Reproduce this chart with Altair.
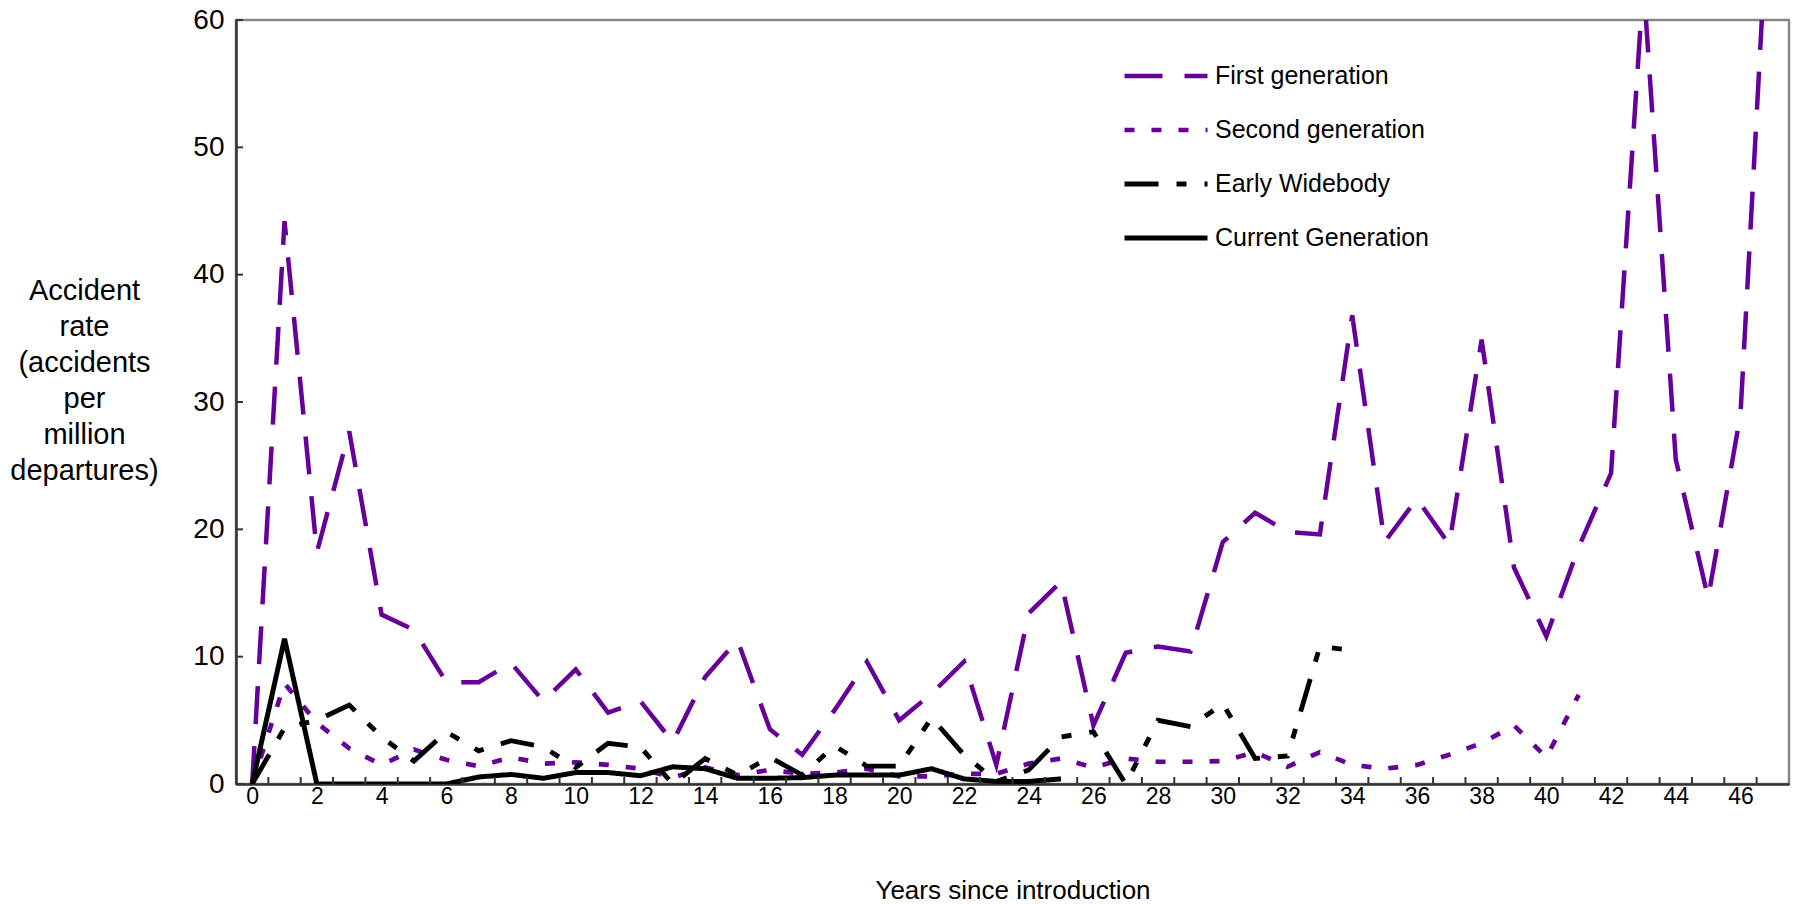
import altair as alt
import pandas as pd

# ---- data ----
series_names = ["First generation", "Second generation", "Early Widebody", "Current Generation"]

first_gen = [0, 44.2, 18.2, 27.7, 13.3, 12.1, 8.0, 8.0, 9.5, 6.5, 9.0, 5.6, 6.5, 3.3,
             8.4, 11.3, 4.3, 2.3, 5.8, 9.6, 5.0, 7.1, 9.6, 1.5, 13.4, 15.9, 4.6, 10.3,
             10.8, 10.4, 19.0, 21.3, 19.8, 19.6, 36.8, 19.0, 22.4, 18.8, 34.9, 17.0,
             11.6, 18.6, 24.4, 63.0, 25.5, 14.6, 29.0, 76.0]
second_gen = [0, 7.9, 4.8, 2.8, 1.5, 2.7, 1.9, 1.4, 2.1, 1.6, 1.7, 1.5, 1.2, 0.5, 1.3,
              0.7, 1.1, 0.8, 0.9, 1.2, 0.6, 0.6, 0.8, 0.8, 1.6, 2.0, 1.3, 2.0, 1.75,
              1.75, 1.8, 2.5, 1.35, 2.5, 1.5, 1.2, 1.5, 2.3, 3.2, 4.6, 2.1, 7.0]
early_widebody = [0, 4.4, 5.0, 6.2, 3.7, 1.8, 4.1, 2.6, 3.4, 2.9, 1.3, 3.2, 2.9, 0, 2.0,
                  0.7, 2.1, 0.7, 3.0, 1.4, 1.4, 5.2, 2.3, 0.2, 1.1, 3.7, 4.1, 0, 5.0,
                  4.5, 6.3, 2.0, 2.2, 10.8, 10.5]
current_gen = [0, 11.4, 0, 0, 0, 0, 0, 0.55, 0.75, 0.45, 0.9, 0.9, 0.65, 1.35, 1.2,
               0.45, 0.45, 0.5, 0.7, 0.7, 0.7, 1.2, 0.4, 0.2, 0.2, 0.4]

x_tick_labels = list(range(0, 47, 2))
y_tick_values = [0, 10, 20, 30, 40, 50, 60]
x_tick_marks = [k + 0.5 for k in range(0, 47)]

# ---- tables ----
rows = []
for name, vals in zip(series_names, [first_gen, second_gen, early_widebody, current_gen]):
    for i, v in enumerate(vals):
        rows.append({"year": i, "rate": v, "series": name})
df = pd.DataFrame(rows)

W, H = 1553, 764
FONT = "Liberation Sans"
purple = "#660099"

x_scale = alt.Scale(domain=[-0.5, 47.5], nice=False, zero=False)
y_scale = alt.Scale(domain=[0, 60], nice=False)

x_axis = alt.Axis(values=x_tick_labels, ticks=False, tickSize=0, grid=False,
                  labelFontSize=23, labelFont=FONT, labelColor="#000000",
                  labelPadding=12, labelBaseline="middle", labelFlush=False,
                  domainColor="#333333", domainWidth=2.5,
                  title="Years since introduction", titleFontSize=26,
                  titleFont=FONT, titleFontWeight="normal", titleColor="#000000",
                  titleY=106, titleBaseline="middle")
y_axis = alt.Axis(values=y_tick_values, ticks=False, tickSize=0, grid=False,
                  labelFontSize=28, labelFont=FONT, labelColor="#000000",
                  labelPadding=12, labelFlush=False,
                  domainColor="#333333", domainWidth=2.5,
                  title=["Accident", "rate", "(accidents", "per", "million",
                         "departures)"],
                  titleAngle=0, titleFontSize=29, titleFont=FONT,
                  titleFontWeight="normal", titleColor="#000000",
                  titleX=-152, titleY=270, titleAlign="center",
                  titleBaseline="middle", titleLineHeight=36)

legend = alt.Legend(
    title=None, orient="none", legendX=886, legendY=41,
    symbolType="stroke", symbolSize=6889, labelFontSize=25, labelFont=FONT,
    labelColor="#000000", labelOffset=5, labelLimit=0, clipHeight=30, rowPadding=24,
    padding=0, symbolStrokeColor="#000000",
)

lines = alt.Chart(df).mark_line(clip=True, strokeJoin="miter").encode(
    x=alt.X("year:Q", scale=x_scale, axis=x_axis),
    y=alt.Y("rate:Q", scale=y_scale, axis=y_axis),
    color=alt.Color("series:N", sort=series_names,
                    scale=alt.Scale(domain=series_names,
                                    range=[purple, purple, "#000000", "#000000"]),
                    legend=legend),
    strokeDash=alt.StrokeDash("series:N", sort=series_names,
                              scale=alt.Scale(domain=series_names,
                                              range=[[38, 22], [10, 17],
                                                     [34, 18, 10, 18, 10, 18], [1, 0]]),
                              legend=legend),
    strokeWidth=alt.StrokeWidth("series:N", sort=series_names,
                                scale=alt.Scale(domain=series_names,
                                                range=[4.5, 5, 5.5, 5.5]),
                                legend=legend),
    order=alt.Order("year:Q"),
)

ytick_df = pd.DataFrame({"rate": y_tick_values})
xtick_df = pd.DataFrame({"year": x_tick_marks})

yticks = alt.Chart(ytick_df).mark_rule(color="#333333", strokeWidth=2).encode(
    y=alt.Y("rate:Q", scale=y_scale, axis=y_axis),
    x=alt.value(0), x2=alt.value(7),
)
xticks = alt.Chart(xtick_df).mark_rule(color="#333333", strokeWidth=2).encode(
    x=alt.X("year:Q", scale=x_scale, axis=x_axis),
    y=alt.value(H - 7), y2=alt.value(H),
)

chart = alt.layer(lines, yticks, xticks).properties(
    width=W, height=H,
    autosize=alt.AutoSizeParams(type="none"),
    padding={"left": 236, "top": 20, "right": 10, "bottom": 120},
    background="#ffffff",
).configure_view(
    stroke="#888888", strokeWidth=2.5,
)

chart.save("out.html", embed_options={"renderer": "svg", "actions": False})
